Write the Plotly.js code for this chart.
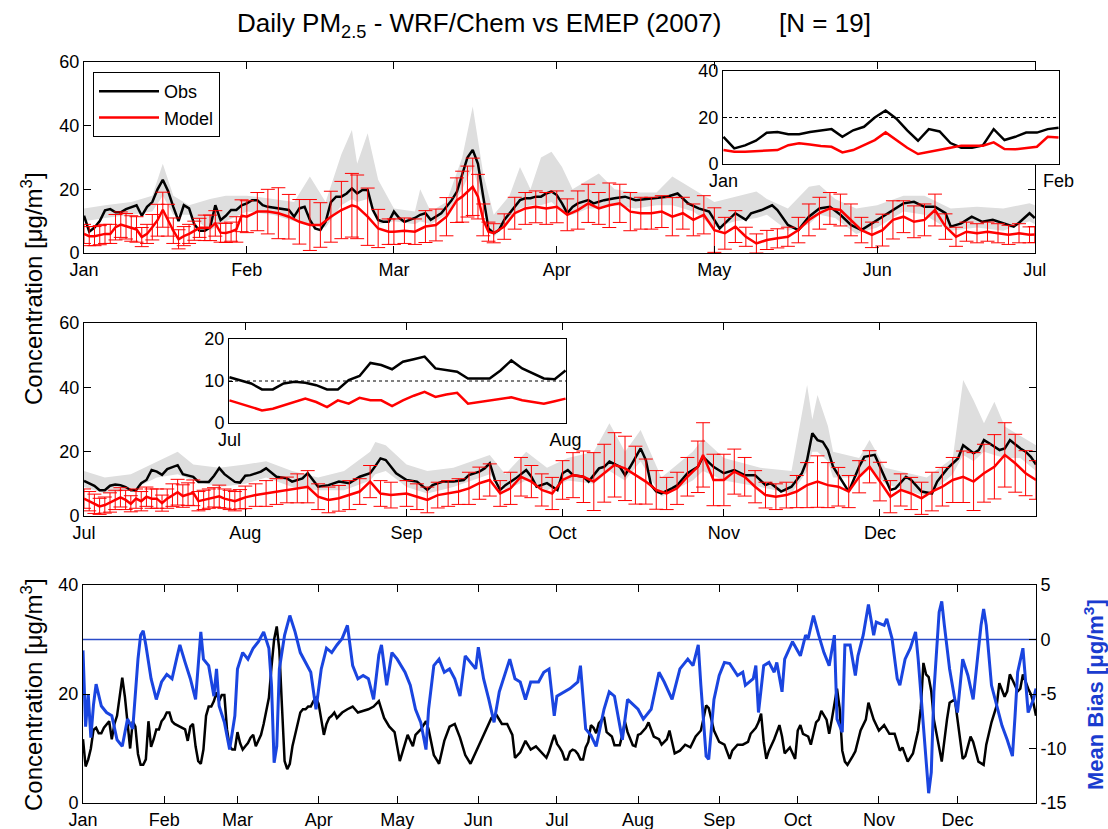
<!DOCTYPE html>
<html><head><meta charset="utf-8">
<script src="https://cdn.plot.ly/plotly-3.0.1.min.js"></script>
<style>html,body{margin:0;padding:0;background:#fff;}#chart{width:1108px;height:829px;}</style>
</head><body><div id="chart"></div>
<script>
// ---------- DATA (x = day of year 2007) ----------
// Observations, Jan-Jun
const obsDaysA = [
 1,2,3,4,5,6,7,8,9,10,11,12,13,14,15,16,17,18,19,20,21,22,23,24,25,26,27,28,29,30,31,
 32,33,34,35,36,38,40,41,42,43,44,45,46,47,48,49,50,51,52,53,54,55,56,57,58,59,
 60,61,62,63,64,65,66,67,68,69,70,71,72,73,74,75,76,77,78,79,80,81,82,83,84,85,86,87,88,89,90,
 91,92,93,94,95,96,97,98,100,102,104,106,108,110,112,114,116,118,120,
 121,122,123,125,127,128,130,132,133,135,137,139,141,143,145,147,149,151,
 153,155,157,159,161,163,165,166,168,170,172,174,176,178,179,181,182];
const obsA = [
 11.7,6.7,8,10,13.4,13.8,12.8,12.8,13.8,14.5,15,11.7,14.5,16,20,23,19.5,14.5,10,15,14,9,7,7,8,15,10.3,11.7,13.5,13.5,15,
 15.6,16.6,16.6,15,14.5,14,13.5,11.4,14,14.5,10.4,7.7,7.2,9.8,16,17.7,17.7,18.7,20.3,18.7,19.8,19.8,13.5,10.4,9.8,9.8,
 13,11,9.8,10.4,11,12,12.5,10.4,11.4,12.5,14.5,16.6,19.3,25,30,32.4,28,17.7,7.7,6.2,7.2,10.4,12.5,14.5,16.6,17.2,17.2,17.7,17.7,18.7,19.3,
 18.2,15.6,12.5,14.5,15.6,16,16.6,15.6,16.6,17.2,17.7,16.6,16.9,17.2,17.7,18.7,15.6,14,13,
 10.4,7.7,9.3,12.5,10.4,12.5,13.5,15,13.5,8.8,7.2,11.4,14,14.5,12,8.8,7.2,9.3,
 11.4,13.5,15.6,16.1,14.5,14.5,12.5,8.3,9.3,11.4,9.8,10.4,9.3,8.3,9.5,12.5,11];
// Observations, Jul-Dec
const obsDaysB = [
 182,183,184,185,186,187,188,189,190,191,192,193,194,195,196,197,198,199,200,201,202,203,204,205,206,207,208,209,210,211,212,213,
 214,216,217,219,221,222,224,225,227,229,231,233,235,237,238,239,240,242,
 244,246,248,249,251,253,255,256,258,259,260,261,262,263,265,267,268,269,271,272,273,
 274,275,276,278,279,281,282,283,285,286,287,289,290,291,292,293,295,296,298,300,301,303,
 305,307,309,311,313,314,316,318,320,321,322,323,324,325,326,328,329,331,332,334,
 335,337,338,340,341,343,345,346,348,349,350,351,353,354,355,356,358,359,360,362,363,364,365];
const obsB = [
 10.9,10.2,9.4,8,8,9.4,9.8,9.6,9,8,8,10.2,11.2,14.3,13.8,12.8,14.6,15.2,15.8,13,12.6,12.2,10.6,10.6,10.6,12.5,14.9,13,11.8,10.6,10.4,12.5,
 12.7,13.8,14.8,12.2,11.7,10.7,11.7,13.3,9.1,9.6,10.7,10.2,12.2,13.3,15.5,17.9,17.4,13.3,
 11.2,10.7,8.1,9.6,10.7,10.7,11.2,12.7,13.8,14.8,16.4,11.2,8.1,9.6,11.7,14.3,12.2,9.1,10.2,9.1,8.1,
 13.3,14.3,12.7,12.2,10.7,14.8,15.3,16.9,15.3,12.7,15.3,21,17.4,9.6,7.6,7,8.6,9.5,13.3,15.3,18.4,15.3,
 13.3,14.3,12.7,12.7,9.6,10.2,7.6,9.1,13.3,17.4,25.7,23.6,23.1,20.5,15.3,10.2,7.6,15.3,18.4,19,
 15.3,8.1,8.6,12.2,11.2,7.6,7,10.7,14.8,16.4,17.9,22,19.5,20.5,23.6,22.6,20.5,21,23.6,21,20,18.4,16];

// Model mean and spread (error bar half-length), Jan-Jun
const modelDaysA = [
 1,2,3,4,5,6,7,8,9,10,11,12,13,14,15,16,17,18,19,20,21,22,23,24,25,26,27,28,29,30,31,
 32,34,36,38,40,42,44,46,48,50,52,53,55,57,59,
 60,62,64,66,68,70,72,73,74,75,76,77,78,79,81,83,85,87,89,
 91,93,95,97,99,101,103,105,107,109,111,113,115,117,119,
 121,123,125,127,129,131,133,135,137,139,141,143,145,147,149,151,
 153,155,157,159,161,163,165,167,169,171,173,175,177,179,181,182];
const modelA = [
 6,5.3,5.3,5.6,6,6,8.1,8.9,8.4,7.7,7.4,5,6,8.1,10.3,13.6,10.3,7,4.3,5.3,6,7,7.9,7.9,7.9,9.3,6.4,6.3,6.7,7.4,11.7,
 11.4,13,13,12.5,11.4,9.8,8.8,8.8,11.4,13.5,15,14.5,11.4,7.7,6.7,
 6.7,7,6.7,8.3,8.8,11.4,16.6,17.7,19.3,20.8,17.7,10.4,6.7,6.2,8.3,12.5,14,14.5,14,
 14.5,12,13.5,15.6,14,15,15.6,13,12.5,12.5,13,11.4,12.5,10.4,12,
 7.2,6.2,8.3,5.1,3,4.1,4.6,5.1,7.2,10.4,12.5,14,13.5,10.4,7.2,5.7,
 7.2,10.4,11.4,9.8,10.4,13.5,8.3,5.1,6.7,6.2,6.7,6.2,5.7,6.2,5.7,5.8];
const errA = [
 3,3,3,3,3,3,4,4,4,4,4,3,3,4,5,5.5,5,4,3,3,3,3,3,4,4,4,3,3,3,4,5,
 5,6,7,8,7,7,8,7,8,9,10,10,9,6,4,
 4,4,4,5,5,6,7,8,8,9,7,5,3,3,4,5,5,5,5,
 5,5,6,6,5,7,6,6,5,5,5,6,5,5,6,
 7,5,5,3,3,3,3,3,4,5,5,5,5,5,4,4,
 5,6,5,5,5,5,4,3,3,3,3,3,3,3,2.5,2.5];
// Model mean and spread, Jul-Dec
const modelDaysB = [
 182,183,184,185,186,187,188,189,190,191,192,193,194,195,196,197,198,199,200,201,202,203,204,205,206,207,208,209,210,211,212,213,
 215,217,219,221,223,225,227,229,231,233,235,237,239,241,
 244,246,248,250,252,254,256,258,260,262,264,266,268,270,272,
 274,276,278,280,282,284,286,288,290,292,294,296,298,300,301,303,
 305,307,309,311,313,315,317,319,321,323,325,327,329,331,333,
 335,337,339,341,343,345,347,349,351,353,355,357,359,361,363,365];
const modelB = [
 5.4,4.6,3.8,3,3.4,4.2,5,5.8,5,3.8,5.4,4.6,6,5.4,5.4,4,5.4,6.5,7.4,6.2,6.8,7.2,4.6,5,5.4,5.8,6.1,5.4,5,4.6,5.2,5.8,
 6.5,7,7.6,8.1,8.6,9.1,6,5,5.5,6.5,7.6,10.7,7,6.5,
 7,6,5,6.5,7,7.6,8.6,10.2,11.2,7,8.6,12.2,10.7,8.1,7,
 11.2,12.7,12.2,10.7,13.3,15.9,14.8,12.7,10.7,8.1,7,8.6,12.2,15.3,19,11.2,
 11.2,13.8,12.2,9.1,6.5,6,6.5,7.6,9.6,10.7,9.6,9.1,7.6,12.2,15.3,
 10.7,6,8.1,7,5.5,7.6,9.1,11.2,12.2,10.7,13.3,15.3,19,16.4,13.3,11.2];
const errB = [
 3,3,3,2.5,2.5,3,3,3,3,2.5,3,3,3,3,3,2.5,3,3.5,4,3.5,3.5,4,3,3,3,3,3.5,3,3,3,3,3.5,
 3.5,4,4,4,4.5,5,4,4,4,4.5,4,5,4,4,
 4,4,4,4,4,4,5,5,5,4,5,6,5,5,5,
 6,7,8,9,9,10,10,9,7,6,5,5,6,8,10,8,
 8,7,6,5,4,4,4,5,7,8,7,6,5,5,5,
 6,5,5,5,5,6,6,7,8,9,9,10,10,9,7,6];

// Station range (grey band)
const grayDaysA = [1,5,10,14,16,18,21,25,28,32,37,41,44,47,50,52,53,55,57,60,64,65,67,70,73,75,77,79,82,84,
 86,88,90,92,94,97,99,102,106,110,113,117,121,125,129,131,135,139,141,144,148,152,157,161,166,171,176,181,182];
const grayHiA = [14,15,16,18,28,18,15,17,18,18,17,16,24,16,31,38.6,28,37.6,23,14,13,20,13,16,30,46,25,12,18,27,
 20,30,31.8,27,20,23,25,20,19,19,24,20,16,17.7,19.3,17,14,20.8,21.4,17,14,15,18,18,14,14.5,14,15.6,15];
const grayLoA = [10,11,12,13,18,12,12,7,10,13,12,10,9,8,15,17,16,17,9,10,9,10,9,12,20,27,15,5,10,14,
 15,15,16,13,12,14,14,15,14,15,15,13,8,10,11,12,7,9,12,11,6,8,13,12,7,8,7,10,9];
const grayDaysB = [182,186,191,196,200,203,208,213,217,222,227,232,237,238,240,244,248,253,260,263,
 267,271,275,280,283,286,289,293,299,301,305,312,318,321,322,323,325,326,331,333,336,344,349,351,353,355,357,359,362,365];
const grayHiB = [14,12,13,17,20,16,15,16,17,14,12,14,20,23,22,16,14,15,19,13,
 20,15,18,20,28.8,20,26.7,12,20,24,18,15,14,40.7,30,37.6,28,20,18,23.6,15,12,18,42.3,36,28.8,35.5,27.8,25,22];
const grayLoB = [9,7,8,12,13,11,9,10,12,9,8,8,11,13,14,9,7,9,13,8,
 11,8,11,10,14,11,17,6,11,14,11,9,7,14,20,20,17,12,12,15,10,6,13,19,17,20,19,18,18,14];

// Mean bias (right axis of bottom panel)
const biasDays = [
 1,2,3,4,5,6,8,10,12,14,16,18,20,22,23,24,25,27,29,31,
 33,35,37,38,40,42,44,45,46,47,49,51,52,53,55,57,59,
 60,62,64,66,68,70,72,73,74,75,76,78,80,82,84,86,88,90,
 92,94,96,98,100,102,104,106,108,110,112,114,115,117,119,
 121,124,126,128,130,132,133,135,137,139,141,143,145,147,149,151,
 152,154,156,158,160,162,164,166,168,170,172,175,177,179,181,
 182,185,187,190,191,193,195,197,200,202,204,207,209,
 213,215,218,221,223,226,229,232,234,236,237,239,240,242,
 244,246,248,251,253,254,257,258,259,261,263,265,266,268,269,271,272,
 275,277,278,280,282,284,286,288,289,291,292,294,296,297,299,301,303,304,
 307,308,310,312,313,315,317,319,320,321,323,324,325,326,328,329,330,332,334,
 335,337,339,341,343,344,345,346,348,350,352,354,356,357,358,360,361,362,364,365];
const bias = [
 -1,-8,-5,-9,-6,-4.1,-6.1,-6.7,-7,-9.2,-9.8,-7.3,-8.2,-1.8,0.4,0.8,-0.5,-3.6,-5.5,-3.9,
 -3.2,-3.6,-1.5,-0.5,-2.1,-3.6,-5.5,-2.1,0.7,-1.8,-2.4,-5.2,-2.7,-6.1,-7.6,-10.1,-7,
 -2.7,-1.2,-1.8,-0.8,-0.2,0.7,-0.8,-4.2,-11.3,-9.8,-2.7,0.4,2.2,0.7,-1.2,-2.1,-3,-6.4,
 -2.7,-0.8,-1.2,-0.5,0.1,1.3,-2.4,-3.6,-3.3,-3.6,-5.5,-1.4,-0.5,-4.2,-1.2,
 -1.8,-3,-4.2,-6.4,-7.6,-10.1,-6.4,-2.4,-1.8,-3,-2.7,-3.6,-5.2,-1.5,-2.1,-2.7,
 -0.7,-3.6,-5.5,-7.6,-4.8,-3.3,-1.8,-3.6,-3.9,-5.5,-3.9,-3.9,-3,-2.7,-7,
 -5.2,-4.8,-4.5,-3.9,-2.4,-8.2,-8.8,-9.8,-6.4,-4.8,-5.2,-9.2,-5.5,
 -6.4,-7.3,-6.4,-3,-3.9,-5.5,-2.7,-1.8,-2.4,-0.5,-4.2,-10.7,-11,-5.5,
 -3.3,-2.1,-2.2,-3.3,-3,-4.2,-3.6,-2.4,-6.7,-2.4,-2.1,-3,-2.1,-4.8,-1.8,-0.8,-0.2,
 -1.5,0.4,0.1,2.2,0.4,-1.2,-2.4,0.4,-7.3,-8.5,-0.5,-0.5,-3.3,-1.5,0.4,3.2,0.4,1.6,
 1.3,1.9,0.1,-3.6,-4.2,-1.8,-0.8,0.7,-1.8,-4.8,-11,-14.1,-12.2,-4.8,2.5,3.5,1.3,-2.7,-5.5,
 -6.7,-1.8,-3.3,-5.5,-1.2,1.3,2.8,1.3,-4.2,-6.1,-7.9,-9.2,-10.7,-7,-3,-0.8,-3.9,-6.7,-5.5,-4.5];

const biasTickVals = [-15,-10,-5,0,5];
const biasTickText = ['-15','-10','-5','0','5'];

// ---------- RENDER ----------
const W = 1108, H = 829;
const FONT = '"Liberation Sans", Arial, Helvetica, sans-serif';
function dayToDate(d){ return new Date(Date.UTC(2007,0,d)).toISOString().slice(0,10); }
const X = a => a.map(dayToDate);
const px = v => v / W;
const py = v => 1 - v / H;
const GRAY = '#dedede', RED = '#ff0000', BLUE = '#1a45e0';

function pick(days, vals, lo, hi){
  const xs=[], ys=[];
  days.forEach((d,i)=>{ if(d>=lo && d<=hi){ xs.push(d); ys.push(vals[i]); } });
  return {x:X(xs), y:ys};
}

const traces = [];
function panel(xa, ya, gD, gL, gH, oD, o, mD, m, e, legend){
  traces.push({x:X(gD), y:gL, xaxis:xa, yaxis:ya, mode:'lines', line:{width:0,color:GRAY}, showlegend:false, hoverinfo:'skip'});
  traces.push({x:X(gD), y:gH, xaxis:xa, yaxis:ya, mode:'lines', line:{width:0,color:GRAY}, fill:'tonexty', fillcolor:GRAY, showlegend:false, hoverinfo:'skip'});
  traces.push({x:X(oD), y:o, xaxis:xa, yaxis:ya, mode:'lines', name:'Obs', line:{color:'#000', width:2.5}, showlegend:legend});
  traces.push({x:X(mD), y:m, xaxis:xa, yaxis:ya, mode:'lines', name:'Model', line:{color:RED, width:2.5}, showlegend:legend,
    error_y:{type:'data', array:e, visible:true, color:RED, thickness:1, width:7}});
}
panel('x','y', grayDaysA, grayLoA, grayHiA, obsDaysA, obsA, modelDaysA, modelA, errA, true);
panel('x2','y2', grayDaysB, grayLoB, grayHiB, obsDaysB, obsB, modelDaysB, modelB, errB, false);

// bottom panel
traces.push({x:X(obsDaysA.concat(obsDaysB)), y:obsA.concat(obsB), xaxis:'x3', yaxis:'y3', mode:'lines', line:{color:'#000', width:2.5}, showlegend:false});
traces.push({x:X(biasDays), y:bias, xaxis:'x3', yaxis:'y4', mode:'lines', line:{color:BLUE, width:3}, showlegend:false});

// insets
const io = pick(obsDaysA, obsA, 1, 32), im = pick(modelDaysA, modelA, 1, 32);
traces.push({x:io.x, y:io.y, xaxis:'x5', yaxis:'y5', mode:'lines', line:{color:'#000', width:2.5}, showlegend:false});
traces.push({x:im.x, y:im.y, xaxis:'x5', yaxis:'y5', mode:'lines', line:{color:RED, width:2.5}, showlegend:false});
const jo = pick(obsDaysB, obsB, 182, 213), jm = pick(modelDaysB, modelB, 182, 213);
traces.push({x:jo.x, y:jo.y, xaxis:'x6', yaxis:'y6', mode:'lines', line:{color:'#000', width:2.5}, showlegend:false});
traces.push({x:jm.x, y:jm.y, xaxis:'x6', yaxis:'y6', mode:'lines', line:{color:RED, width:2.5}, showlegend:false});

const ax = {showline:true, linecolor:'#000', linewidth:1, ticks:'inside', ticklen:7, tickwidth:1, tickcolor:'#000',
  showgrid:false, zeroline:false, tickfont:{size:18, family:FONT, color:'#000'}, fixedrange:true};
const dateAx = (dom, anchor, r0, r1, t0) => Object.assign({}, ax, {domain:dom, anchor:anchor, type:'date', range:[r0, r1],
  tickformat:'%b', dtick:'M1', tick0:t0, mirror:'ticks'});

const layout = {
  width:W, height:H, autosize:false, margin:{l:0,r:0,t:0,b:0,pad:0},
  paper_bgcolor:'#fff', plot_bgcolor:'#fff', hovermode:false,
  font:{family:FONT, color:'#000', size:18},
  title:{text:'Daily PM<sub>2.5</sub> - WRF/Chem vs EMEP (2007)' + '\u00a0'.repeat(8) + '[N = 19]',
    font:{size:26, family:FONT, color:'#000'}, x:0.5, xref:'paper', xanchor:'center', y:py(23), yref:'paper', yanchor:'middle'},
  xaxis: dateAx([px(84), px(1035)], 'y', '2007-01-01', '2007-07-01 01:00', '2007-01-01'),
  yaxis: Object.assign({}, ax, {domain:[py(253), py(62)], anchor:'x', range:[0,60], dtick:20, mirror:'ticks'}),
  xaxis2: dateAx([px(84), px(1036)], 'y2', '2007-07-01', '2007-12-31', '2007-07-01'),
  yaxis2: Object.assign({}, ax, {domain:[py(516), py(323)], anchor:'x2', range:[0,60], dtick:20, mirror:'ticks'}),
  xaxis3: dateAx([px(83), px(1036)], 'y3', '2007-01-01', '2007-12-31', '2007-01-01'),
  yaxis3: Object.assign({}, ax, {domain:[py(803), py(585)], anchor:'x3', range:[0,40], dtick:20, mirror:false}),
  yaxis4: Object.assign({}, ax, {overlaying:'y3', side:'right', anchor:'x3', range:[-15,5], tickvals:biasTickVals, ticktext:biasTickText}),
  xaxis5: Object.assign({}, ax, {domain:[px(723), px(1059)], anchor:'y5', type:'date', range:['2006-12-31 23:00','2007-02-01 01:00'],
    tickvals:[dayToDate(1), dayToDate(32)], ticktext:['Jan','Feb'], mirror:true, ticklen:4}),
  yaxis5: Object.assign({}, ax, {domain:[py(164), py(71)], anchor:'x5', range:[0,40], dtick:20, mirror:true, ticklen:4}),
  xaxis6: Object.assign({}, ax, {domain:[px(229), px(566)], anchor:'y6', type:'date', range:['2007-06-30 23:00','2007-08-01 01:00'],
    tickvals:[dayToDate(182), dayToDate(213)], ticktext:['Jul','Aug'], mirror:true, ticklen:4}),
  yaxis6: Object.assign({}, ax, {domain:[py(423), py(339)], anchor:'x6', range:[0,20], dtick:10, mirror:true, ticklen:4}),
  legend:{x:px(93), y:py(72), xanchor:'left', yanchor:'top', bgcolor:'#fff', bordercolor:'#000', borderwidth:1,
    font:{size:18, family:FONT, color:'#000'}, itemwidth:60, tracegroupgap:0, traceorder:'normal'},
  shapes:[
    {type:'line', xref:'x5 domain', yref:'y5', x0:0, x1:1, y0:20, y1:20, line:{color:'#000', width:1, dash:'dot'}},
    {type:'line', xref:'x6 domain', yref:'y6', x0:0, x1:1, y0:10, y1:10, line:{color:'#000', width:1, dash:'dot'}},
    {type:'line', xref:'x3 domain', yref:'y4', x0:0, x1:1, y0:0, y1:0, line:{color:'#2a4bc8', width:1.3}, layer:'below'}
  ],
  annotations:[
    {text:'Concentration [\u03bcg/m<sup>3</sup>]', xref:'paper', yref:'paper', x:px(32), y:py(289), textangle:-90,
      showarrow:false, xanchor:'center', yanchor:'middle', font:{size:24, family:FONT, color:'#000'}},
    {text:'Concentration [\u03bcg/m<sup>3</sup>]', xref:'paper', yref:'paper', x:px(32), y:py(695), textangle:-90,
      showarrow:false, xanchor:'center', yanchor:'middle', font:{size:24, family:FONT, color:'#000'}},
    {text:'<b>Mean Bias [\u03bcg/m<sup>3</sup>]</b>', xref:'paper', yref:'paper', x:px(1094), y:py(695), textangle:-90,
      showarrow:false, xanchor:'center', yanchor:'middle', font:{size:22, family:FONT, color:'#1a3ccf'}}
  ]
};

Plotly.newPlot('chart', traces, layout, {staticPlot:true, displayModeBar:false});
</script>
</body></html>
